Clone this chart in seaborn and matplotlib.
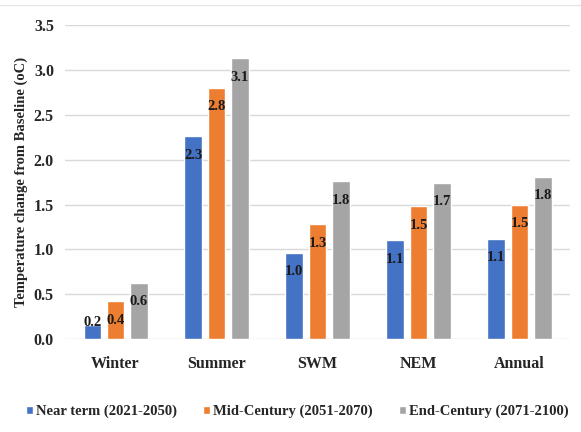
import numpy as np
import pandas as pd
import matplotlib
matplotlib.use('Agg')
import matplotlib.pyplot as plt
import seaborn as sns

# data
seasons = ['Winter', 'Summer', 'SWM', 'NEM', 'Annual']
periods = ['Near term (2021-2050)', 'Mid-Century (2051-2070)', 'End-Century (2071-2100)']
near_term = [0.16, 2.26, 0.96, 1.10, 1.12]
mid_century = [0.42, 2.80, 1.28, 1.48, 1.50]
end_century = [0.63, 3.13, 1.76, 1.74, 1.81]
labels_near = ['0.2', '2.3', '1.0', '1.1', '1.1']
labels_mid = ['0.4', '2.8', '1.3', '1.5', '1.5']
labels_end = ['0.6', '3.1', '1.8', '1.7', '1.8']

colors = ['#4472C4', '#ED7D31', '#A5A5A5']

df = pd.DataFrame({
    'season': seasons * 3,
    'period': [periods[0]] * 5 + [periods[1]] * 5 + [periods[2]] * 5,
    'value': near_term + mid_century + end_century,
})
all_labels = [labels_near, labels_mid, labels_end]

sns.set_style('white')
plt.rcParams['font.family'] = ['Liberation Serif', 'DejaVu Serif']

fig = plt.figure(figsize=(5.81, 4.32), dpi=100)
ax = fig.add_axes([0.112, 0.215, 0.869, 0.727])

sns.barplot(data=df, x='season', y='value', hue='period', palette=colors,
            saturation=1, width=0.69, gap=0.24, ax=ax, legend=True, zorder=3)

ax.set_ylim(0, 3.5)
ax.set_yticks(np.arange(0, 3.51, 0.5))
ax.set_yticklabels([f'{t:.1f}' for t in np.arange(0, 3.51, 0.5)],
                   fontsize=11.5, fontweight='bold', color='#262626')
ax.set_xticks(range(len(seasons)))
ax.set_xticklabels(seasons, fontsize=11.5, fontweight='bold', color='#262626')
ax.tick_params(axis='x', pad=12, length=0)
ax.tick_params(axis='y', pad=8, length=0)
ax.set_xlabel('')
ax.set_ylabel('Temperature change from Baseline (oC)', fontsize=10.5,
              fontweight='bold', color='#262626', labelpad=4)
ax.grid(axis='y', color='#d9d9d9', linewidth=1, zorder=0)
for s in ['top', 'right', 'left', 'bottom']:
    ax.spines[s].set_visible(False)

# value labels just inside the bar tops
for i, cont in enumerate(ax.containers):
    for j, bar in enumerate(cont):
        x = bar.get_x() + bar.get_width() / 2
        y = max(bar.get_height() - 0.21, 0.19)
        ax.text(x, y, all_labels[i][j], ha='center', va='center',
                fontsize=10.5, fontweight='bold', color='#1a1a1a', zorder=4)

handles, lbls = ax.get_legend_handles_labels()
ax.legend(handles, lbls, loc='center', bbox_to_anchor=(0.46, -0.23), ncol=3,
          frameon=False, handlelength=0.5, handleheight=0.5, handletextpad=0.2,
          columnspacing=1.8, prop={'weight': 'bold', 'size': 10.5})
for t in ax.get_legend().get_texts():
    t.set_color('#262626')

fig.add_artist(plt.Line2D([0.0, 1.0], [0.988, 0.988], color='#e6e6e6', linewidth=1))

plt.savefig('out.png', dpi=100)
